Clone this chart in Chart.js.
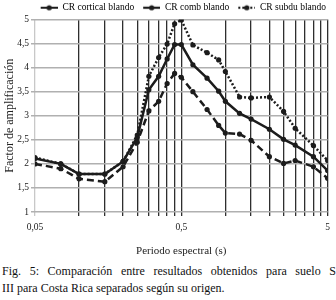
<!DOCTYPE html>
<html>
<head>
<meta charset="utf-8">
<script src="https://cdn.jsdelivr.net/npm/chart.js@4"></script>
<style>
  body { margin: 0; background: #fff; }
  #wrap { position: relative; width: 336px; height: 300px; overflow: hidden; }
  #chart { position: absolute; left: 0; top: 0; }
  .cap { position: absolute; left: 2px; width: 334px; font-family: 'Liberation Serif', serif; font-size: 12px; color: #111; white-space: nowrap; }
  #cap1 { top: 264px; text-align: justify; text-align-last: justify; white-space: normal; }
  #cap2 { top: 281px; }
</style>
</head>
<body>
<div id="wrap">
  <canvas id="chart" width="336" height="258"></canvas>
  <div class="cap" id="cap1">Fig. 5: Comparación entre resultados obtenidos para suelo S</div>
  <div class="cap" id="cap2">III para Costa Rica separados según su origen.</div>
</div>
<script>
// periodos (s) de los puntos
const periods = [0.05, 0.075, 0.1, 0.15, 0.2, 0.25, 0.3, 0.35, 0.4, 0.45, 0.5, 0.6, 0.75, 0.9, 1, 1.25, 1.5, 2, 2.5, 3, 4, 5];
// series
const crCortical = [2.0, 1.9, 1.69, 1.63, 1.94, 2.45, 3.1, 3.3, 3.67, 3.88, 3.8, 3.5, 3.13, 2.8, 2.64, 2.62, 2.49, 2.15, 2.01, 2.07, 1.94, 1.7];
const crComb = [2.11, 2.0, 1.79, 1.79, 2.05, 2.55, 3.54, 3.82, 4.18, 4.48, 4.48, 4.06, 3.78, 3.51, 3.3, 3.05, 2.93, 2.72, 2.51, 2.39, 2.15, 1.86];
const crSubdu = [2.13, 2.0, 1.79, 1.79, 2.05, 2.6, 3.82, 4.21, 4.49, 4.91, 4.99, 4.47, 4.31, 4.16, 3.92, 3.39, 3.37, 3.39, 3.09, 2.74, 2.38, 2.07];
const seriesNames = ["CR cortical blando", "CR comb blando", "CR subdu blando"];
// etiquetas eje x
const xMajor = [0.05, 0.5, 5];
const xMajorLabels = ["0,05", "0,5", "5"];

const ink = "#1c1c1c";

// lineas de rejilla: 1..9 veces cada mayor
const gridValues = [];
for (let i = 0; i < xMajor.length - 1; i++) {
  for (let k = 1; k <= 9; k++) gridValues.push(xMajor[i] * k);
}
gridValues.push(xMajor[xMajor.length - 1]);

function toXY(ys) {
  return periods.map((p, i) => ({ x: p, y: ys[i] }));
}

// icono de leyenda: linea + punto
function legendIcon(dash) {
  const c = document.createElement("canvas");
  c.width = 26; c.height = 10;
  const g = c.getContext("2d");
  g.strokeStyle = ink; g.lineWidth = 2.2;
  g.setLineDash(dash);
  g.beginPath(); g.moveTo(9, 5); g.lineTo(26, 5); g.stroke();
  g.fillStyle = ink;
  g.beginPath(); g.arc(17.5, 5, 2.6, 0, Math.PI * 2); g.fill();
  return c;
}

// baja un poco la leyenda sin mover el area del grafico
const legendShift = {
  id: "legendShift",
  afterLayout(chart) {
    const l = chart.legend;
    l.top += 3; l.bottom += 3;
    l.right -= 3;
  },
};

const dashes = [[7, 4], [], [2, 2]];
const allData = [crCortical, crComb, crSubdu];

const ctx = document.getElementById("chart").getContext("2d");
Chart.defaults.font.family = "'Liberation Serif', 'Times New Roman', serif";
Chart.defaults.color = "#222";

const myChart = new Chart(ctx, {
  type: "line",
  data: {
    datasets: allData.map((d, i) => ({
      label: seriesNames[i],
      data: toXY(d),
      borderColor: ink,
      backgroundColor: ink,
      borderWidth: 2.5,
      borderDash: dashes[i],
      pointRadius: 2.6,
      pointBorderWidth: 0,
      pointBackgroundColor: ink,
      pointStyle: "circle",
      tension: 0,
      fill: false,
    })),
  },
  options: {
    responsive: false,
    animation: false,
    devicePixelRatio: 1,
    layout: { padding: { top: 0, right: 7, left: 0, bottom: 0 } },
    plugins: {
      tooltip: { enabled: false },
      legend: {
        position: "top",
        align: "end",
        labels: {
          usePointStyle: true,
          pointStyleWidth: 26,
          padding: 0,
          font: { size: 9.5 },
          color: "#222",
          generateLabels: (chart) => chart.data.datasets.map((ds, i) => ({
            text: ds.label,
            pointStyle: legendIcon(dashes[i]),
            fillStyle: ink,
            strokeStyle: ink,
            lineWidth: 0,
            datasetIndex: i,
          })),
        },
      },
    },
    scales: {
      x: {
        type: "logarithmic",
        min: 0.05,
        max: 5,
        afterBuildTicks: (s) => { s.ticks = gridValues.map((v) => ({ value: v })); },
        afterFit: (s) => { s.height = 258 - 212; },
        ticks: {
          autoSkip: false,
          maxRotation: 0,
          padding: 6,
          font: { size: 9.5 },
          callback: (v) => {
            const idx = xMajor.findIndex((m) => Math.abs(m - v) < 1e-6);
            return idx >= 0 ? xMajorLabels[idx] : "";
          },
        },
        grid: {
          color: (c) => (c.tick && Math.abs(c.tick.value - 0.05) < 1e-6 ? "#c8c8c8" : "#2e2e2e"),
          lineWidth: 1.3,
          tickLength: 4,
        },
        border: { display: false },
        title: {
          display: true,
          text: "Periodo espectral (s)",
          font: { size: 11 },
          padding: { top: 5, bottom: 0 },
          color: "#222",
        },
      },
      y: {
        min: 1,
        max: 5,
        afterFit: (s) => { s.width = 35; },
        ticks: {
          stepSize: 0.5,
          padding: 2,
          font: { size: 9.5 },
          callback: (v) => String(v).replace(".", ","),
        },
        grid: {
          color: "#b0b0b0",
          lineWidth: 1.5,
          tickLength: 4,
        },
        border: { display: false },
        title: {
          display: true,
          text: "Factor de amplificación",
          font: { size: 12 },
          padding: { top: 3, bottom: 0 },
          color: "#222",
        },
      },
    },
  },
  plugins: [legendShift],
});
</script>
</body>
</html>
